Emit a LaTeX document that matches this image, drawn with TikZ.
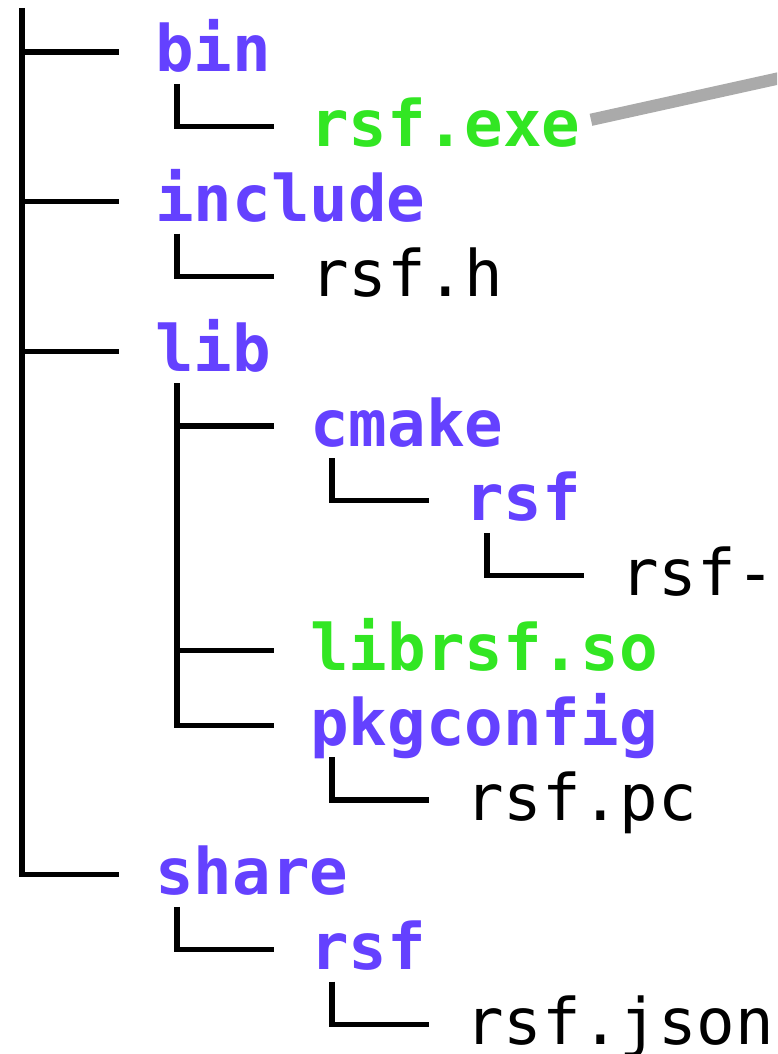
\documentclass[tikz,border=0pt]{standalone}
\usepackage{fontspec}
\setmonofont{DejaVu Sans Mono}
\usepackage{tikz}
\usetikzlibrary{calc}

\definecolor{dircol}{RGB}{100,65,255}
\definecolor{execol}{RGB}{50,230,35}
\definecolor{arrowgray}{RGB}{170,170,170}

\begin{document}
\begin{tikzpicture}[x=0.02cm,y=-0.02cm]
		\tikzset{tree/.style={line width=3pt,black}};
		\tikzset{entry/.style={anchor=base west,inner sep=0pt,font=\ttfamily\fontsize{36.5}{40}\selectfont}};
		\tikzset{dir/.style={entry,text=dircol,font=\ttfamily\bfseries\fontsize{36.5}{40}\selectfont}};
		\tikzset{exe/.style={entry,text=execol,font=\ttfamily\bfseries\fontsize{36.5}{40}\selectfont}};
		\tikzset{file/.style={entry,text=black}};
		
		\useasboundingbox (0,0) rectangle (777,1054);
		\clip (0,0) rectangle (777,1054);
		
		% entries: name/level/row/text/style
		\foreach \n/\l/\r/\t/\s in {bin/0/0/bin/dir, rsfexe/1/1/rsf.exe/exe,
			include/0/2/include/dir, rsfh/1/3/rsf.h/file,
			lib/0/4/lib/dir, cmake/1/5/cmake/dir, cmakersf/2/6/rsf/dir,
			rsfcfg/3/7/rsf-/file, librsf/1/8/librsf.so/exe,
			pkgconfig/1/9/pkgconfig/dir, rsfpc/2/10/rsf.pc/file,
			share/0/11/share/dir, sharersf/1/12/rsf/dir, rsfjson/2/13/rsf.json/file}
		\node[\s] (\n) at ({155+155*\l},{72+74.8*\r}) {\t};
		
		% root spine
		\coordinate (root) at (22,8);
		\draw[tree] (root) |- ($(share.base west)+(-36,-20)$);
		\foreach \c in {bin,include,lib}
		\draw[tree] (root |- \c.base) ++(0,-20) -- ($(\c.base west)+(-36,-20)$);
		
		% last children
		\foreach \p/\c in {bin/rsfexe,include/rsfh,lib/pkgconfig,cmake/cmakersf,
			cmakersf/rsfcfg,pkgconfig/rsfpc,share/sharersf,sharersf/rsfjson}
		\draw[tree] ($(\p.base west)+(22,12)$) |- ($(\c.base west)+(-36,-20)$);
		
		% middle children of lib
		\foreach \c in {cmake,librsf}
		\draw[tree] ($(lib.west |- \c.base)+(22,-20)$) -- ($(\c.base west)+(-36,-20)$);
		
		% pointer to the executable
		\coordinate (callout) at (830,67);
		\draw[line width=7pt,arrowgray] ($(rsfexe.base east)+(10,-27)$) -- (callout);
\end{tikzpicture}
\end{document}
